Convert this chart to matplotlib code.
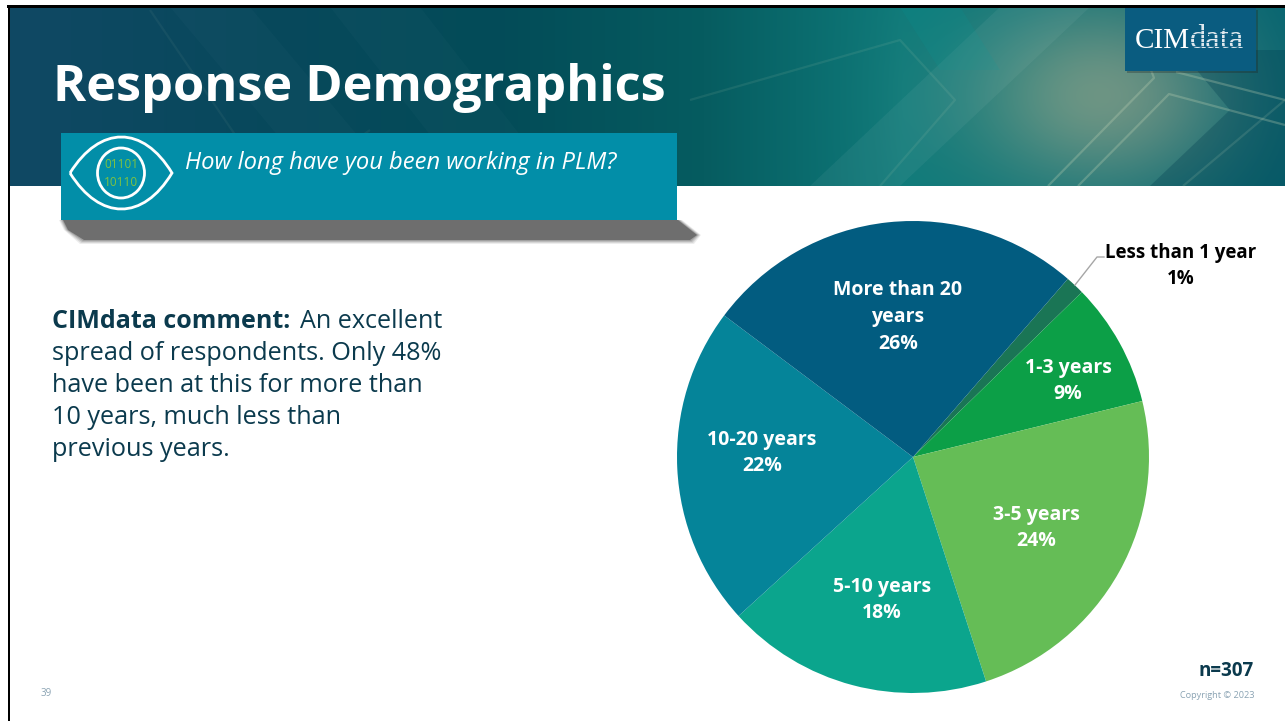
import numpy as np
import matplotlib
matplotlib.use("Agg")
import matplotlib.pyplot as plt
from matplotlib.patches import Rectangle, Polygon, Ellipse, PathPatch
from matplotlib.path import Path

# dati del grafico (ordine orario, parte dalla fetta piccola)
categories = ["Less than 1 year", "1-3 years", "3-5 years", "5-10 years", "10-20 years", "More than 20 years"]
shares = [1.3, 8.5, 23.8, 18.25, 22.0, 26.15]
share_labels = ["1%", "9%", "24%", "18%", "22%", "26%"]
colors = ["#1a7555", "#0c9f47", "#65bd56", "#0ba58d", "#058499", "#025c80"]

comment_lines = ["spread of respondents. Only 48%", "have been at this for more than",
                 "10 years, much less than", "previous years."]

W, H = 1285, 721
plt.rcParams['font.family'] = ['Open Sans', 'DejaVu Sans']

fig = plt.figure(figsize=(W / 100, H / 100), dpi=100)
fig.patch.set_facecolor('white')

# assi in pixel per tutto il contorno della slide
bg = fig.add_axes([0, 0, 1, 1])
bg.set_xlim(0, W)
bg.set_ylim(H, 0)
bg.axis('off')

# banner: sfumatura con alone chiaro a destra
bx = np.arange(W)
by = np.arange(7, 186)
xx, yy = np.meshgrid(bx, by)
stops_x = [0, 250, 500, 700, 900, 1285]
r = np.interp(xx, stops_x, [16, 8, 3, 6, 14, 4])
g = np.interp(xx, stops_x, [72, 72, 76, 92, 122, 100])
b = np.interp(xx, stops_x, [100, 92, 88, 96, 122, 112])
glow = np.exp(-(((xx - 1105) / 130.0) ** 2 + ((yy - 95) / 95.0) ** 2))
r = r + glow * 100
g = g + glow * 38
b = b + glow * 15
banner = np.clip(np.dstack([r, g, b]) / 255.0, 0, 1)
bg.imshow(banner, extent=(8, W, 186, 7), aspect='auto', zorder=1, interpolation='bilinear')
bg.set_xlim(0, W)
bg.set_ylim(H, 0)

# bande e tracce diagonali sul banner
for pts, col, al in [
    ([(1000, 7), (1090, 7), (900, 186), (810, 186)], 'white', 0.05),
    ([(1180, 50), (1285, 50), (1285, 186), (1150, 186), (1230, 110)], '#003c50', 0.30),
    ([(170, 7), (250, 7), (400, 186), (320, 186)], 'white', 0.02),
    ([(330, 7), (420, 7), (560, 186), (470, 186)], 'white', 0.02),
    ([(900, 7), (960, 7), (1000, 70), (940, 70)], '#00a0a0', 0.12),
]:
    bg.add_patch(Polygon(pts, closed=True, fc=col, ec='none', alpha=al, zorder=2))
for xs, ys, al in [
    ([1048, 1154, 1151], [186, 78, 70], 0.28),
    ([1078, 1169, 1285], [186, 94, 125], 0.28),
    ([1176, 1285], [72, 100], 0.28),
    ([1183, 1285], [186, 100], 0.14),
    ([880, 955, 900, 690], [186, 100, 40, 100], 0.10),
    ([300, 370], [180, 130], 0.06),
    ([150, 270], [10, 186], 0.06),
]:
    bg.plot(xs, ys, color='#c8d8b8', lw=1.6, alpha=al, zorder=2, solid_capstyle='butt')

# bordo nero sopra e a sinistra
bg.add_patch(Rectangle((7, 5), W - 7, 2.5, fc='black', ec='none', zorder=3))
bg.add_patch(Rectangle((8, 5), 2, H - 5, fc='black', ec='none', zorder=3))

# logo
bg.add_patch(Rectangle((1127, 10), 131, 63, fc='#222222', ec='none', alpha=0.3, zorder=3))
bg.add_patch(Rectangle((1125, 8), 131, 63, fc='#0a5c80', ec='none', zorder=4))
bg.text(1135, 48, "CIM", color='white', fontsize=21, family='Liberation Serif',
        ha='left', va='baseline', zorder=5)
bg.text(1190, 48, "data", color='#dfe8ee', fontsize=23.5, family='Liberation Serif',
        ha='left', va='baseline', zorder=5)
for y in range(30, 50, 4):
    bg.add_patch(Rectangle((1190, y), 57, 0.8, fc='#0a5c80', ec='none', alpha=0.8, zorder=6))

# titolo
bg.text(53, 88, "Response Demographics", color='white', fontsize=36.4, fontweight='bold',
        ha='left', va='center', zorder=5)

# ombra del riquadro della domanda (sfumata a strati)
for grow, al in [(4, 0.12), (3, 0.18), (2, 0.25), (1, 0.35), (0, 1.0)]:
    bg.add_patch(Polygon([(63 - grow, 220), (678 + grow, 220), (697 + grow, 235), (690 + grow, 240 + grow),
                          (84 - grow, 240 + grow), (68 - grow, 230)],
                         closed=True, fc='#6e6e6e', ec='none', alpha=al, zorder=3))

# riquadro della domanda
bg.add_patch(Rectangle((61, 133), 616, 87, fc='#028ea8', ec='none', zorder=4))
bg.text(185, 163, "How long have you been working in PLM?", color='white', fontsize=17.1,
        style='italic', ha='left', va='center', zorder=5)

# icona occhio
eye = Path([(70, 173), (100, 125), (143, 125), (172, 173), (143, 221), (100, 221), (70, 173)],
           [Path.MOVETO, Path.CURVE4, Path.CURVE4, Path.CURVE4, Path.CURVE4, Path.CURVE4, Path.CURVE4])
bg.add_patch(PathPatch(eye, fc='none', ec='white', lw=2, zorder=5))
bg.add_patch(Ellipse((121, 173), 47, 50, fc='none', ec='white', lw=2, zorder=5))
bg.text(121, 165, "01101", color='#7fc241', fontsize=8.5, ha='center', va='center', zorder=5)
bg.text(121, 182, "10110", color='#7fc241', fontsize=8.5, ha='center', va='center', zorder=5)

# commento a sinistra
ink = '#0b3a4d'
bg.text(52, 321, "CIMdata comment:", color=ink, fontsize=18, fontweight='bold', ha='left', va='center', zorder=5)
bg.text(300, 321, "An excellent", color=ink, fontsize=18.1, ha='left', va='center', zorder=5)
for i, line in enumerate(comment_lines):
    bg.text(52, 353 + i * 32, line, color=ink, fontsize=18.2, ha='left', va='center', zorder=5)

# torta
cx, cy, rad = 913, 457, 236
ax = fig.add_axes([(cx - rad) / W, 1 - (cy + rad) / H, 2 * rad / W, 2 * rad / H])
ax.pie(shares, colors=colors, startangle=90 - 41, counterclock=False, radius=1,
       wedgeprops=dict(linewidth=0))
ax.set_xlim(-1, 1)
ax.set_ylim(-1, 1)
ax.patch.set_alpha(0)

# etichette sopra la torta
over = fig.add_axes([0, 0, 1, 1])
over.set_xlim(0, W)
over.set_ylim(H, 0)
over.axis('off')
over.patch.set_alpha(0)

label_xy = [(1181, 266), (1068, 381), (1036, 528), (882, 600), (762, 453), (898, 317)]
for i, name in enumerate(categories):
    col = 'black' if i == 0 else 'white'
    size = 13.5 if i == 0 else 14
    txt = name.replace("More than 20 years", "More than 20\nyears")
    over.text(label_xy[i][0], label_xy[i][1], txt + "\n" + share_labels[i], color=col, fontsize=size,
              fontweight='bold', ha='center', va='center', linespacing=1.46)

over.plot([1075, 1097, 1104], [285, 257, 257], color='#a6a6a6', lw=1)

# note in basso
over.text(1254, 671, "n=307", color=ink, fontsize=13.6, fontweight='bold', ha='right', va='center')
over.text(1255, 695, "Copyright © 2023", color='#8aa3b3', fontsize=6.6, ha='right', va='center')
over.text(46, 694, "39", color='#8aa3b3', fontsize=7, ha='center', va='center')

fig.savefig("out.png", dpi=100)
